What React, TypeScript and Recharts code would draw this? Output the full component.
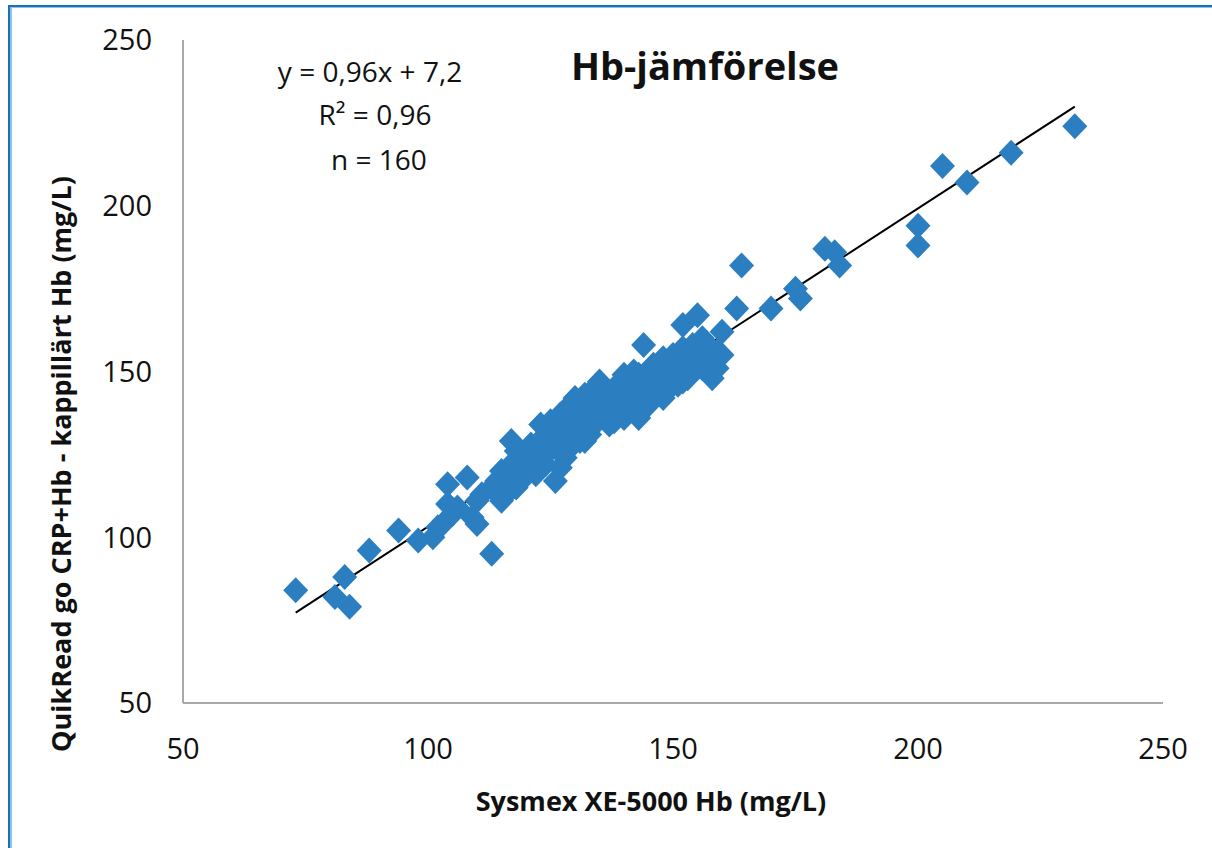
import React from "react";
import { ScatterChart, Scatter, XAxis, YAxis, ReferenceLine, Customized } from "recharts";

// Sysmex XE-5000 Hb (x) and QuikRead go CRP+Hb capillary Hb (y), mg/L
const sysmexHb = [
  73, 81, 83, 84, 88, 94, 98, 101, 102, 103,
  104, 104, 105, 106, 108, 109, 110, 110, 111, 113,
  113, 114, 115, 115, 116, 116, 117, 117, 118, 118,
  119, 119, 120, 120, 121, 122, 122, 123, 123, 124,
  124, 125, 125, 126, 126, 127, 127, 127, 128, 128,
  128, 129, 129, 130, 130, 130, 131, 131, 132, 132,
  132, 133, 133, 134, 134, 135, 135, 135, 136, 136,
  137, 137, 138, 138, 139, 139, 140, 140, 141, 141,
  142, 142, 143, 143, 144, 144, 144, 145, 145, 146,
  146, 147, 147, 148, 148, 149, 149, 150, 150, 151,
  151, 152, 152, 152, 153, 153, 154, 154, 155, 155,
  156, 156, 157, 158, 158, 159, 160, 163, 164, 170,
  176, 175, 181, 183, 184, 200, 200, 205, 210, 219, 232,
  118, 121, 124, 126, 129, 131, 133, 134, 136, 137,
  139, 140, 141, 142, 143, 145, 146, 147, 148, 149,
  150, 151, 153, 154, 156, 157, 159, 160, 138,
];
const quikreadHb = [
  84, 82, 88, 79, 96, 102, 99, 100, 103, 104,
  116, 110, 107, 109, 118, 106, 111, 104, 113, 95,
  115, 117, 111, 120, 113, 118, 129, 122, 120, 126,
  123, 117, 125, 121, 124, 126, 119, 128, 134, 131,
  125, 135, 129, 117, 128, 121, 133, 137, 131, 138,
  124, 134, 127, 142, 136, 130, 139, 133, 143, 135,
  129, 137, 140, 134, 141, 147, 138, 144, 136, 142,
  134, 140, 145, 139, 146, 137, 143, 136, 141, 147,
  138, 144, 136, 149, 158, 146, 141, 150, 143, 147,
  152, 145, 149, 142, 154, 148, 151, 146, 155, 149,
  153, 164, 147, 157, 151, 155, 150, 158, 167, 153,
  156, 160, 154, 153, 148, 156, 162, 169, 182, 169,
  172, 175, 187, 186, 182, 194, 188, 212, 207, 216, 224,
  115, 128, 122, 132, 140, 129, 131, 145, 139, 143,
  141, 149, 138, 150, 144, 140, 144, 152, 150, 145,
  150, 146, 148, 154, 151, 158, 151, 155, 135,
];

const axisTicks = [50, 100, 150, 200, 250];
const trendSlope = 0.96;
const trendIntercept = 7.2;
const trendRange = [73, 232];
const titleText = "Hb-jämförelse";
const equationLines = ["y = 0,96x + 7,2", "R\u00B2 = 0,96", "n = 160"];
const xLabelText = "Sysmex XE-5000 Hb (mg/L)";
const yLabelText = "QuikRead go CRP+Hb - kappillärt Hb (mg/L)";

const data = sysmexHb.map((x, i) => ({ x, y: quikreadHb[i] }));
const trendSegment = trendRange.map((x) => ({ x, y: trendSlope * x + trendIntercept }));

const FONT = "'Open Sans', 'Noto Sans', sans-serif";
const BLUE = "#2b7fc1";

const Diamond = (props: any) => {
  const { cx, cy } = props;
  if (cx == null || cy == null) return null;
  return (
    <polygon
      points={`${cx},${cy - 13} ${cx + 12.5},${cy} ${cx},${cy + 13} ${cx - 12.5},${cy}`}
      fill={BLUE}
    />
  );
};

const Texts = () => (
  <g fontFamily={FONT} fill="#111">
    <text x={705} y={80} fontSize={38} fontWeight={700} textAnchor="middle">{titleText}</text>
    <text x={370} y={82} fontSize={28} textAnchor="middle">{equationLines[0]}</text>
    <text x={375} y={125} fontSize={28} textAnchor="middle">{equationLines[1]}</text>
    <text x={379} y={170} fontSize={28} textAnchor="middle">{equationLines[2]}</text>
    <text x={651} y={811} fontSize={27} fontWeight={700} textAnchor="middle">{xLabelText}</text>
    <text
      x={60}
      y={464}
      fontSize={27}
      fontWeight={700}
      textAnchor="middle"
      dominantBaseline="central"
      transform="rotate(-90, 60, 464)"
    >
      {yLabelText}
    </text>
  </g>
);

export default function App() {
  return (
    <div style={{ position: "absolute", left: 0, top: 0, width: 1212, height: 848, overflow: "hidden", background: "#fff" }}>
      <div style={{ position: "absolute", left: 0, top: 0 }}>
        <ScatterChart width={1212} height={848} margin={{ top: 40, right: 49, bottom: 85, left: 83 }}>
          <XAxis
            type="number"
            dataKey="x"
            domain={[50, 250]}
            ticks={axisTicks}
            height={60}
            tickLine={false}
            tickSize={0}
            tickMargin={35}
            axisLine={{ stroke: "#a9a9a9", strokeWidth: 2 }}
            tick={{ fontFamily: FONT, fontSize: 29, fill: "#111" }}
            interval={0}
          />
          <YAxis
            type="number"
            dataKey="y"
            domain={[50, 250]}
            ticks={axisTicks}
            width={100}
            tickLine={false}
            tickSize={0}
            tickMargin={31}
            axisLine={{ stroke: "#a9a9a9", strokeWidth: 2 }}
            tick={{ fontFamily: FONT, fontSize: 29, fill: "#111" }}
            interval={0}
          />
          <Scatter data={data} shape={<Diamond />} isAnimationActive={false} />
          <ReferenceLine
            segment={trendSegment}
            stroke="#000"
            strokeWidth={2}
            ifOverflow="visible"
          />
          <Customized component={Texts} />
        </ScatterChart>
      </div>
      <div style={{ position: "absolute", left: 8, top: 5, width: 1300, height: 1000, borderLeft: "2px solid #1f6db3", borderTop: "2px solid #1f6db3", pointerEvents: "none" }} />
      <div style={{ position: "absolute", left: 10, top: 7, width: 1300, height: 1000, borderLeft: "2px solid #8cc3ee", borderTop: "1px solid #8cc3ee", pointerEvents: "none" }} />
    </div>
  );
}
